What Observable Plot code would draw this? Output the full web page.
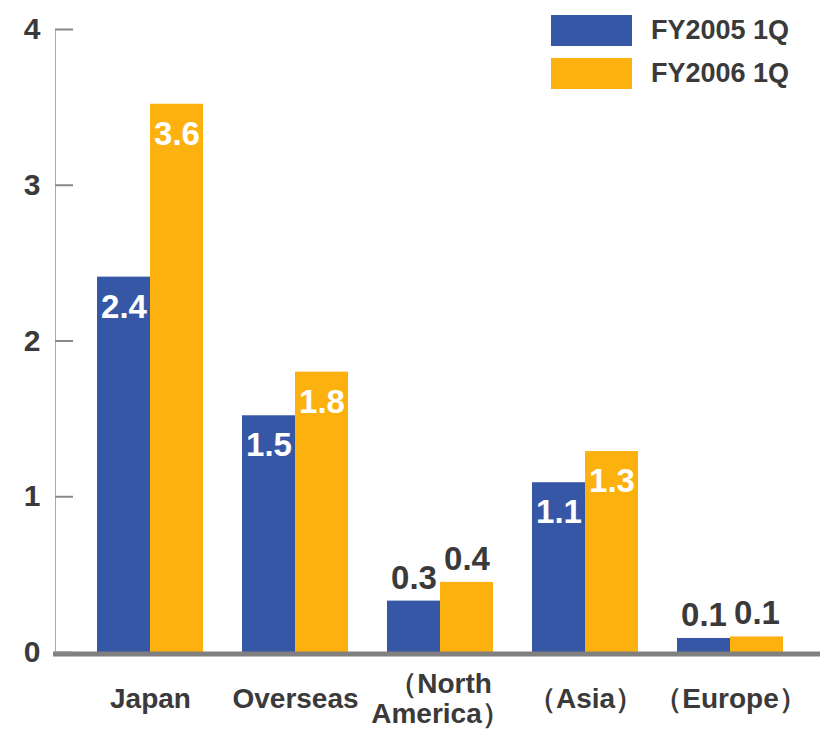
<!DOCTYPE html>
<html><head><meta charset="utf-8">
<script src="https://cdn.jsdelivr.net/npm/d3@7"></script>
<script src="https://cdn.jsdelivr.net/npm/@observablehq/plot@0.6"></script>
<style>
body{margin:0;background:#fff;}
#wrap{position:relative;width:820px;height:730px;font-family:"Liberation Sans",Arial,sans-serif;}
.legend{position:absolute;left:551px;top:9px;}
.item{display:flex;align-items:center;height:43px;}
.sw{width:81px;height:31px;margin-right:19px;}
.lab{font-size:27px;font-weight:bold;color:#3a3a3a;}
</style></head><body><div id="wrap"></div>
<script>
const categories = ["Japan", "Overseas", "（North\nAmerica）", "（Asia）", "（Europe）"];
const series = ["FY2005 1Q", "FY2006 1Q"];
const fy2005 = [2.41, 1.52, 0.33, 1.09, 0.09];
const fy2006 = [3.52, 1.80, 0.45, 1.29, 0.10];
const labels2005 = ["2.4", "1.5", "0.3", "1.1", "0.1"];
const labels2006 = ["3.6", "1.8", "0.4", "1.3", "0.1"];
const colors = ["#3657A6", "#FDB10E"];
const yTicks = [0, 1, 2, 3, 4];

const rows = categories.flatMap((c, i) => [
  {category: c, series: series[0], value: fy2005[i], label: labels2005[i]},
  {category: c, series: series[1], value: fy2006[i], label: labels2006[i]}
]);
const inside = rows.filter(d => d.value >= 0.5);
const outside = rows.filter(d => d.value < 0.5);
const textColor = "#3a3a3a";
const axisGap = 42;   // distance from the y-axis line to the first bar group

const chart = Plot.plot({
  width: 820, height: 730,
  marginLeft: 97, marginRight: 37, marginTop: 29, marginBottom: 78,
  style: {fontFamily: "'Liberation Sans', Arial, sans-serif", background: "#fff", overflow: "visible"},
  fx: {domain: categories, paddingInner: 0.271, paddingOuter: 0, label: null},
  x: {domain: series, padding: 0, axis: null},
  y: {domain: [0, 4], label: null},
  color: {domain: series, range: colors},
  marks: [
    Plot.frame({anchor: "left", facet: "super", stroke: "#aaaaaa", dx: -axisGap}),
    Plot.barY(rows, {fx: "category", x: "series", y: "value", fill: "series"}),
    Plot.text(inside, {fx: "category", x: "series", y: "value", text: "label", dy: 30,
      fill: "white", fontSize: 33, fontWeight: "bold"}),
    Plot.text(outside, {fx: "category", x: "series", y: "value", text: "label", dy: -23,
      fill: textColor, fontSize: 33, fontWeight: "bold"}),
    Plot.frame({anchor: "bottom", facet: "super", stroke: "#808080", strokeWidth: 5, dy: 1.5,
      insetLeft: -axisGap, insetRight: -37}),
    Plot.axisY({ticks: yTicks, tickSize: -18, tickFormat: () => "", stroke: "#888888", strokeWidth: 2,
      dx: -axisGap, label: null}),
    Plot.axisY({ticks: yTicks, tickSize: 0, tickPadding: 15 + axisGap, tickFormat: d => String(d),
      fontSize: 30, fontWeight: "bold", color: textColor, label: null}),
    Plot.axisFx({anchor: "bottom", tickSize: 0, tickPadding: 46, lineAnchor: "middle", lineHeight: 1.07,
      fontSize: 28, fontWeight: "bold", color: textColor, label: null})
  ]
});
const wrap = document.getElementById("wrap");
wrap.appendChild(chart);
const legend = document.createElement("div");
legend.className = "legend";
series.forEach((s, i) => {
  const it = document.createElement("div"); it.className = "item";
  const sw = document.createElement("div"); sw.className = "sw"; sw.style.background = colors[i];
  const lb = document.createElement("span"); lb.className = "lab"; lb.textContent = s;
  it.appendChild(sw); it.appendChild(lb); legend.appendChild(it);
});
wrap.appendChild(legend);
</script></body></html>
